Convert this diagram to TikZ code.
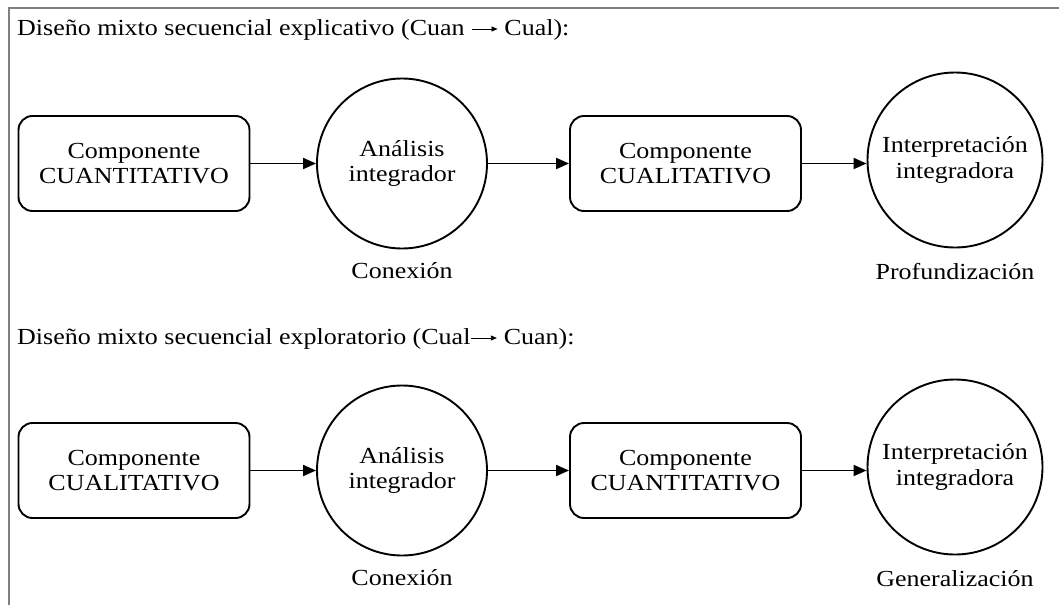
\documentclass[tikz,border=0pt]{standalone}
\usepackage{fontspec}
\setmainfont{Liberation Serif}[FakeStretch=1.13]
\usepackage{tikz}
\usetikzlibrary{arrows.meta}
\colorlet{framegray}{black!50}
\newcommand{\flecha}{\tikz[baseline=0pt]\draw[line width=0.8pt,-{Triangle[length=6pt,width=5pt]}] (0pt,6pt) -- (26pt,6pt);}

\begin{document}
\begin{tikzpicture}[x=1pt,y=-1pt,
    every node/.style={font=\fontsize{23}{25.6}\selectfont},
    comp/.style={draw,rounded corners=14pt,line width=1.9pt,minimum width=231pt,minimum height=95pt,align=center},
    fase/.style={draw,circle,line width=1.9pt,minimum size=170pt,inner sep=0pt,align=center},
    flujo/.style={line width=1.9pt,-{Triangle[length=13pt,width=11pt]}},
    titulo/.style={anchor=base west,inner sep=0pt},
    etiqueta/.style={anchor=base,inner sep=0pt}]
\useasboundingbox (0,0) rectangle (1059,605);
\draw[framegray,line width=2pt] (8.5,605) -- (8.5,7.5) -- (1059,7.5);

\node[titulo] (tit1) at (17,35) {Diseño mixto secuencial explicativo (Cuan \flecha{} Cual):};
\node[comp] (cuan1) at (134,163.5) {Componente\\CUANTITATIVO};
\node[fase] (ana1) at (402,163.5) {Análisis\\integrador};
\node[comp] (cual1) at (685.5,163.5) {Componente\\CUALITATIVO};
\node[fase,minimum size=175pt] (int1) at (955,160) {Interpretación\\integradora};
\node[etiqueta] (con1) at (402,278) {Conexión};
\node[etiqueta] (pro1) at (955,279) {Profundización};
\draw[flujo] (cuan1) -- (ana1);
\draw[flujo] (ana1) -- (cual1);
\draw[flujo] (cual1.east) -- (cual1.east -| int1.west);

\node[titulo] (tit2) at (17,344) {Diseño mixto secuencial exploratorio (Cual\flecha{} Cuan):};
\node[comp] (cual2) at (134,470.5) {Componente\\CUALITATIVO};
\node[fase] (ana2) at (402,470.5) {Análisis\\integrador};
\node[comp] (cuan2) at (685.5,470.5) {Componente\\CUANTITATIVO};
\node[fase,minimum size=175pt] (int2) at (955,467) {Interpretación\\integradora};
\node[etiqueta] (con2) at (402,585) {Conexión};
\node[etiqueta] (gen2) at (955,586) {Generalización};
\draw[flujo] (cual2) -- (ana2);
\draw[flujo] (ana2) -- (cuan2);
\draw[flujo] (cuan2.east) -- (cuan2.east -| int2.west);
\end{tikzpicture}
\end{document}
